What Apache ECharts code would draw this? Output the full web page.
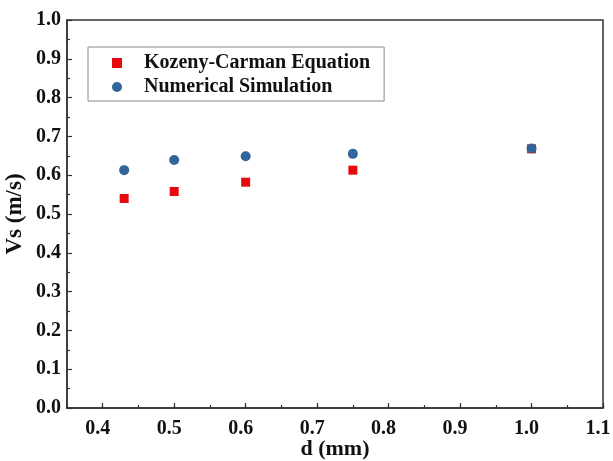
<!DOCTYPE html>
<html>
<head>
<meta charset="utf-8">
<script src="https://cdn.jsdelivr.net/npm/echarts@6/dist/echarts.min.js"></script>
<style>
  html, body { margin: 0; padding: 0; background: #fff; }
  #chart { width: 613px; height: 461px; }
</style>
</head>
<body>
<div id="chart"></div>
<script>
// Particle diameter d (mm)
const diameters = [0.43, 0.50, 0.60, 0.75, 1.00];
// Settling velocity Vs (m/s)
const kozenyCarman = [0.540, 0.558, 0.582, 0.613, 0.668];
const numericalSim = [0.613, 0.639, 0.649, 0.655, 0.669];
const seriesNames = ['Kozeny-Carman Equation', 'Numerical Simulation'];
// Labelled x positions
const xMajorTicks = [0.4, 0.5, 0.6, 0.7, 0.8, 0.9, 1.0, 1.1];

const pairs = (xs, ys) => xs.map((x, i) => [x, ys[i]]);
const font = '"Liberation Serif", "Times New Roman", serif';
const axisColor = '#333';
const textColor = '#111';
const X_MIN = 0.35, X_MAX = 1.1;

const chart = echarts.init(document.getElementById('chart'), null, { renderer: 'canvas' });
chart.setOption({
  animation: false,
  backgroundColor: '#fff',
  grid: {
    left: 67, right: 10, top: 20, bottom: 53,
    containLabel: false,
    outerBoundsMode: 'none',
    show: true, borderColor: axisColor, borderWidth: 1.5
  },
  legend: {
    orient: 'vertical',
    left: 88, top: 47,
    itemWidth: 10, itemHeight: 10,
    itemGap: 4,
    padding: [6, 14, 4, 24],
    borderColor: '#888', borderWidth: 1,
    textStyle: {
      fontFamily: font, fontWeight: 'bold', fontSize: 20, lineHeight: 20,
      color: textColor, padding: [0, 0, 0, 17]
    },
    data: [
      { name: seriesNames[0], icon: 'rect' },
      { name: seriesNames[1], icon: 'circle' }
    ]
  },
  xAxis: [
    {
      type: 'value',
      min: X_MIN, max: X_MAX,
      name: 'd (mm)',
      nameLocation: 'middle',
      nameGap: 30,
      nameMoveOverlap: false,
      nameTextStyle: { fontFamily: font, fontWeight: 'bold', fontSize: 22, color: textColor },
      axisLine: { lineStyle: { color: axisColor, width: 1.5 } },
      axisTick: {
        inside: true, length: 5, customValues: xMajorTicks,
        lineStyle: { color: axisColor, width: 1.2 }
      },
      splitLine: { show: false },
      axisLabel: {
        customValues: xMajorTicks,
        fontFamily: font, fontWeight: 'bold', fontSize: 20, color: textColor,
        margin: 11, padding: [0, 10, 0, 0],
        formatter: v => v.toFixed(1)
      }
    },
    {
      // minor ticks every 0.05 along the bottom edge
      type: 'value',
      position: 'bottom',
      min: X_MIN, max: X_MAX,
      interval: 0.05,
      axisLine: { show: false },
      axisTick: { inside: true, length: 3, lineStyle: { color: axisColor, width: 1.2 } },
      axisLabel: { show: false },
      splitLine: { show: false }
    }
  ],
  yAxis: {
    type: 'value',
    min: 0, max: 1.0,
    interval: 0.1,
    name: 'Vs (m/s)',
    nameLocation: 'middle',
    nameGap: 40,
    nameMoveOverlap: false,
    nameTextStyle: { fontFamily: font, fontWeight: 'bold', fontSize: 23, color: textColor },
    axisLine: { lineStyle: { color: axisColor, width: 1.5 } },
    axisTick: { inside: true, length: 5, lineStyle: { color: axisColor, width: 1.2 } },
    minorTick: { show: true, splitNumber: 2, length: 3, lineStyle: { color: axisColor, width: 1.2 } },
    splitLine: { show: false },
    axisLabel: {
      fontFamily: font, fontWeight: 'bold', fontSize: 20, color: textColor, margin: 6,
      formatter: v => v.toFixed(1)
    }
  },
  series: [
    {
      name: seriesNames[0],
      type: 'scatter',
      xAxisIndex: 0,
      symbol: 'rect',
      symbolSize: 9,
      itemStyle: { color: '#e60a0f', opacity: 1 },
      data: pairs(diameters, kozenyCarman)
    },
    {
      name: seriesNames[1],
      type: 'scatter',
      xAxisIndex: 0,
      symbol: 'circle',
      symbolSize: 10,
      itemStyle: { color: '#33649c', opacity: 1 },
      data: pairs(diameters, numericalSim)
    }
  ]
});
</script>
</body>
</html>
